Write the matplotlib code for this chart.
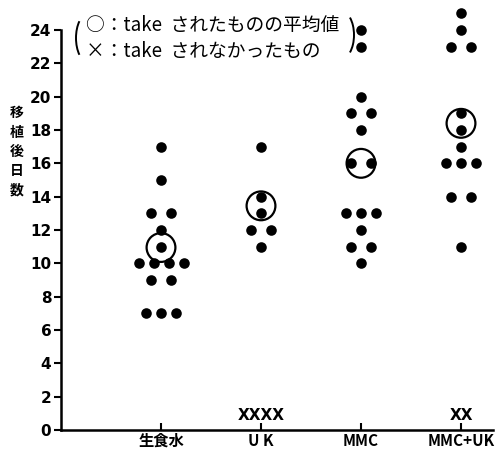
import numpy as np
import matplotlib
matplotlib.use("Agg")
import matplotlib.pyplot as plt
from matplotlib.patches import Arc
from collections import Counter

plt.rcParams['font.family'] = ['Noto Sans CJK JP', 'DejaVu Sans']

categories = ['生食水', 'U K', 'MMC', 'MMC+UK']
group_saline = [17, 15, 13, 13, 12, 11, 10, 10, 10, 10, 9, 9, 7, 7, 7]
group_uk = [17, 14, 13, 12, 12, 11]
group_mmc = [24, 23, 20, 19, 19, 18, 16, 16, 13, 13, 13, 12, 11, 11, 10]
group_mmcuk = [25, 24, 23, 23, 19, 18, 17, 16, 16, 16, 14, 14, 11]
means = [10.95, 13.45, 16.0, 18.4]
not_taken = [0, 4, 0, 2]
yticks = list(range(0, 25, 2))

groups = [group_saline, group_uk, group_mmc, group_mmcuk]

W, H = 498, 454
fig = plt.figure(figsize=(W / 100, H / 100), dpi=100)
ax = fig.add_axes([61 / W, (H - 430) / H, 432 / W, 430 / H])
ax.set_xlim(0, 4.32)
ax.set_ylim(0, 25.8)

for i, vals in enumerate(groups):
    xc = i + 1
    cnt = Counter(vals)
    xs, ys = [], []
    for v, n in cnt.items():
        step = 0.2 if n == 2 else 0.15
        offs = (np.arange(n) - (n - 1) / 2) * step
        xs.extend(xc + offs)
        ys.extend([v] * n)
    ax.scatter(xs, ys, s=58, color='black', zorder=3, linewidths=0)
    ax.scatter([xc], [means[i]], s=430, facecolors='none', edgecolors='black',
               linewidths=1.6, zorder=4)
    if not_taken[i]:
        ax.text(xc, 0.9, 'X' * not_taken[i], ha='center', va='center',
                fontsize=11, fontweight='bold', family='DejaVu Sans')

for s in ['top', 'right']:
    ax.spines[s].set_visible(False)
ax.spines['left'].set_bounds(0, 24)
ax.spines['left'].set_linewidth(1.8)
ax.spines['bottom'].set_linewidth(1.8)

ax.set_yticks(yticks)
ax.set_yticklabels([str(t) for t in yticks], fontsize=11, fontweight='bold',
                   family=['Liberation Sans Narrow', 'DejaVu Sans'])
ax.tick_params(axis='y', direction='out', length=5, width=1.5, pad=2)
ax.set_xticks(range(1, len(categories) + 1))
ax.set_xticklabels(categories, fontsize=11, fontweight='bold')
ax.tick_params(axis='x', direction='in', length=5, width=1.5, pad=2)

fig.text(17 / W, 1 - 152 / H, '\n'.join('移植後日数'), ha='center', va='center',
         fontsize=10, fontweight='bold', linespacing=1.5)

fig.text(86 / W, 1 - 25 / H, '○：take  されたものの平均値', ha='left', va='center', fontsize=13.5)
fig.text(86 / W, 1 - 52 / H, '×：take  されなかったもの', ha='left', va='center', fontsize=13.5)

# big parentheses around the legend
fig.patches.append(Arc((88 / W, 1 - 38 / H), 24 / W, 48 / H, theta1=115, theta2=245,
                       transform=fig.transFigure, color='black', lw=1.4))
fig.patches.append(Arc((341 / W, 1 - 35 / H), 26 / W, 48 / H, theta1=-65, theta2=65,
                       transform=fig.transFigure, color='black', lw=1.4))

fig.savefig('out.png', dpi=100)
